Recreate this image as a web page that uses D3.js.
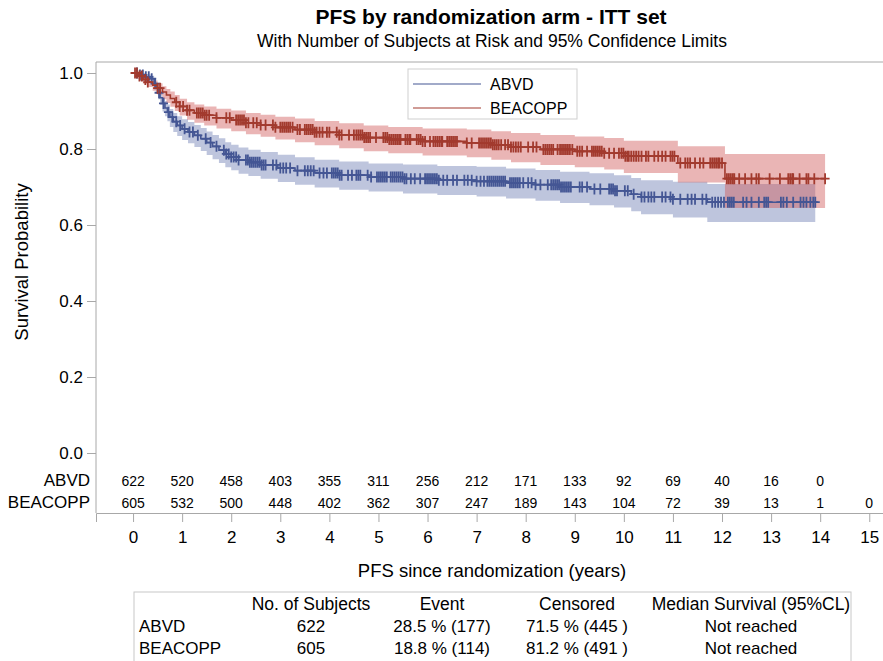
<!DOCTYPE html>
<html>
<head>
<meta charset="utf-8">
<script src="https://cdn.jsdelivr.net/npm/d3@7"></script>
<style>
    body { margin: 0; background: #fff; }
    text { font-family: "Liberation Sans", Arial, sans-serif; fill: #000; }
    .axis-scale path, .axis-scale line { stroke: #a8a8a8; }
    .axis-scale text { font-size: 17px; }
</style>
</head>
<body>
<div id="km-chart-container"></div>
<script>
// step times (years) and survival estimates with 95% limits - ABVD
const ABVD_TIME = [0, 0.12, 0.25, 0.38, 0.43, 0.47, 0.51, 0.55, 0.6, 0.65, 0.7, 0.75, 0.82, 0.9, 1.0, 1.12, 1.25, 1.38, 1.5, 1.62,
    1.75, 1.88, 2.0, 2.15, 2.35, 2.6, 2.95, 3.3, 3.7, 4.2, 4.8, 5.5, 6.2, 7.0, 7.6, 8.2, 8.7, 9.3, 9.8, 10.15, 10.35, 11.0, 11.7];
const ABVD_SURV = [1.0, 0.995, 0.99, 0.985, 0.972, 0.96, 0.948, 0.935, 0.92, 0.908, 0.897, 0.884, 0.872, 0.862, 0.853, 0.845, 0.836, 0.827, 0.817, 0.807,
    0.797, 0.787, 0.779, 0.771, 0.765, 0.758, 0.75, 0.743, 0.737, 0.731, 0.726, 0.722, 0.718, 0.715, 0.711, 0.706, 0.7, 0.695, 0.69, 0.681, 0.674, 0.668, 0.66];
const ABVD_LOWER = [1.0, 0.989, 0.982, 0.975, 0.96, 0.945, 0.931, 0.916, 0.899, 0.886, 0.873, 0.858, 0.845, 0.834, 0.824, 0.815, 0.805, 0.795, 0.784, 0.773,
    0.763, 0.752, 0.744, 0.735, 0.729, 0.722, 0.713, 0.706, 0.699, 0.693, 0.688, 0.683, 0.679, 0.675, 0.67, 0.664, 0.658, 0.652, 0.646, 0.636, 0.628, 0.62, 0.608];
const ABVD_UPPER = [1.0, 1.0, 0.996, 0.993, 0.982, 0.972, 0.962, 0.951, 0.937, 0.926, 0.917, 0.905, 0.895, 0.886, 0.878, 0.871, 0.863, 0.855, 0.846, 0.837,
    0.828, 0.818, 0.811, 0.804, 0.798, 0.792, 0.785, 0.778, 0.772, 0.767, 0.762, 0.759, 0.755, 0.753, 0.749, 0.745, 0.74, 0.736, 0.731, 0.724, 0.718, 0.714, 0.708];
const ABVD_LAST = 13.9;

// censored observations (years) - ABVD
const ABVD_CENSOR = [0.08, 0.14, 0.2, 0.26, 0.32, 0.38, 0.45, 0.53, 0.62, 0.72, 0.8, 0.88, 0.96, 1.05, 1.15, 1.22, 1.32, 1.48, 1.58, 1.7,
    1.85, 1.9, 1.95, 2.0, 2.05, 2.1, 2.15, 2.3, 2.34, 2.38, 2.42, 2.46, 2.5, 2.54, 2.58, 2.62, 2.66, 2.7, 2.85, 2.92, 3.0, 3.06, 3.12, 3.2,
    3.35, 3.5, 3.56, 3.62, 3.68, 3.8, 3.88, 3.95, 4.05, 4.09, 4.13, 4.17, 4.21, 4.25, 4.38, 4.46, 4.55, 4.59, 4.63, 4.78, 4.85, 4.97, 5.01,
    5.05, 5.09, 5.13, 5.17, 5.25, 5.29, 5.33, 5.37, 5.41, 5.45, 5.49, 5.53, 5.57, 5.66, 5.74, 5.85, 5.95, 5.99, 6.03, 6.07, 6.11, 6.15, 6.19,
    6.23, 6.32, 6.4, 6.52, 6.6, 6.75, 6.82, 6.9, 7.0, 7.08, 7.15, 7.22, 7.26, 7.3, 7.34, 7.38, 7.42, 7.46, 7.5, 7.54, 7.58, 7.68, 7.72, 7.76,
    7.8, 7.84, 7.88, 7.95, 8.05, 8.12, 8.2, 8.3, 8.45, 8.52, 8.56, 8.6, 8.64, 8.68, 8.72, 8.76, 8.8, 8.84, 8.88, 8.92, 9.1, 9.15, 9.25, 9.4,
    9.52, 9.7, 9.74, 9.78, 9.82, 9.86, 10.02, 10.08, 10.2, 10.36, 10.42, 10.5, 10.56, 10.62, 10.78, 10.85, 10.95, 11.0, 11.15, 11.3, 11.38,
    11.45, 11.6, 11.68, 11.8, 11.86, 11.92, 11.98, 12.04, 12.12, 12.16, 12.2, 12.24, 12.43, 12.5, 12.6, 12.75, 12.86, 12.9, 12.94, 13.2,
    13.25, 13.32, 13.45, 13.6, 13.66, 13.72, 13.8, 13.86, 13.9];

// step times (years) and survival estimates with 95% limits - BEACOPP
const BEA_TIME = [0, 0.1, 0.2, 0.3, 0.4, 0.5, 0.6, 0.68, 0.76, 0.85, 0.95, 1.1, 1.25, 1.45, 1.7, 2.0, 2.3, 2.6, 2.9, 3.3,
    3.7, 4.2, 4.7, 5.2, 5.9, 6.8, 7.3, 7.7, 8.3, 9.0, 9.6, 10.0, 11.1, 12.06];
const BEA_SURV = [1.0, 0.992, 0.983, 0.976, 0.968, 0.96, 0.95, 0.942, 0.933, 0.923, 0.912, 0.902, 0.895, 0.889, 0.882, 0.876, 0.869, 0.863, 0.857, 0.851,
    0.844, 0.837, 0.83, 0.825, 0.82, 0.816, 0.811, 0.805, 0.799, 0.794, 0.789, 0.781, 0.763, 0.722];
const BEA_LOWER = [1.0, 0.985, 0.972, 0.963, 0.953, 0.943, 0.931, 0.921, 0.911, 0.9, 0.888, 0.877, 0.869, 0.862, 0.854, 0.847, 0.839, 0.832, 0.825, 0.818,
    0.81, 0.802, 0.794, 0.789, 0.783, 0.778, 0.772, 0.765, 0.758, 0.752, 0.746, 0.737, 0.712, 0.645];
const BEA_UPPER = [1.0, 0.997, 0.991, 0.986, 0.98, 0.973, 0.965, 0.958, 0.951, 0.942, 0.932, 0.923, 0.917, 0.912, 0.906, 0.901, 0.895, 0.89, 0.885, 0.88,
    0.874, 0.868, 0.862, 0.858, 0.854, 0.851, 0.847, 0.842, 0.837, 0.833, 0.829, 0.822, 0.807, 0.787];
const BEA_LAST = 14.1;

// censored observations (years) - BEACOPP
const BEA_CENSOR = [0.04, 0.08, 0.13, 0.18, 0.25, 0.3, 0.5, 0.55, 0.88, 0.95, 1.02, 1.1, 1.15, 1.3, 1.34, 1.38, 1.42, 1.46, 1.5, 1.55,
    1.7, 1.9, 1.97, 2.1, 2.14, 2.18, 2.22, 2.26, 2.3, 2.35, 2.45, 2.52, 2.6, 2.7, 2.85, 2.9, 3.0, 3.04, 3.08, 3.12, 3.16, 3.2, 3.25, 3.35,
    3.4, 3.5, 3.54, 3.58, 3.62, 3.66, 3.7, 3.74, 3.8, 3.86, 3.95, 4.0, 4.15, 4.2, 4.25, 4.4, 4.5, 4.55, 4.59, 4.63, 4.67, 4.71, 4.75, 4.79,
    4.83, 4.95, 5.1, 5.14, 5.18, 5.22, 5.26, 5.3, 5.34, 5.38, 5.42, 5.45, 5.55, 5.59, 5.63, 5.65, 5.78, 5.82, 5.86, 5.9, 5.95, 6.05, 6.12,
    6.16, 6.2, 6.24, 6.28, 6.3, 6.4, 6.44, 6.48, 6.52, 6.56, 6.6, 6.8, 6.9, 7.05, 7.09, 7.13, 7.17, 7.21, 7.25, 7.29, 7.33, 7.37, 7.41,
    7.45, 7.5, 7.58, 7.64, 7.7, 7.75, 7.8, 7.85, 7.9, 8.05, 8.15, 8.22, 8.36, 8.4, 8.44, 8.48, 8.52, 8.56, 8.65, 8.7, 8.74, 8.78, 8.82,
    8.86, 8.9, 8.95, 9.05, 9.1, 9.15, 9.25, 9.35, 9.39, 9.43, 9.47, 9.51, 9.55, 9.6, 9.7, 9.8, 9.9, 9.95, 9.99, 10.03, 10.07, 10.1, 10.15,
    10.2, 10.25, 10.3, 10.36, 10.45, 10.5, 10.62, 10.7, 10.78, 10.85, 10.95, 10.99, 11.03, 11.15, 11.25, 11.3, 11.35, 11.45, 11.55, 11.62,
    11.76, 11.8, 11.84, 11.88, 11.92, 11.95, 12.0, 12.1, 12.14, 12.18, 12.22, 12.25, 12.35, 12.47, 12.6, 12.7, 12.75, 12.97, 13.18, 13.35,
    13.39, 13.43, 13.45, 13.58, 13.72, 13.76, 13.88, 14.1];

// number of subjects at risk
const RISK_TIMES = [0, 1, 2, 3, 4, 5, 6, 7, 8, 9, 10, 11, 12, 13, 14, 15];
const RISK_ABVD = [622, 520, 458, 403, 355, 311, 256, 212, 171, 133, 92, 69, 40, 16, 0];
const RISK_BEA = [605, 532, 500, 448, 402, 362, 307, 247, 189, 143, 104, 72, 39, 13, 1, 0];

// axis ticks
const X_TICKS = [0, 1, 2, 3, 4, 5, 6, 7, 8, 9, 10, 11, 12, 13, 14, 15];
const Y_TICKS = [0, 0.2, 0.4, 0.6, 0.8, 1.0];

// summary table
const ARM_NAMES = ["ABVD", "BEACOPP"];
const SUMMARY_HEADERS = ["No. of Subjects", "Event", "Censored", "Median Survival (95%CL)"];
const SUMMARY_ABVD = ["622", "28.5 % (177)", "71.5 % (445 )", "Not reached"];
const SUMMARY_BEA = ["605", "18.8 % (114)", "81.2 % (491 )", "Not reached"];

function drawKmChart() {
    const W = 883, H = 661;

    const svg = d3.select("#km-chart-container")
        .append("svg")
        .attr("width", W)
        .attr("height", H);

    // scales
    const x = d3.scaleLinear().domain([-0.755, 15.28]).range([96, 883]);
    const y = d3.scaleLinear().domain([0, 1]).range([453, 73]);

    // titles
    svg.append("text")
        .attr("x", 491).attr("y", 24)
        .attr("text-anchor", "middle")
        .attr("font-size", "21px").attr("font-weight", "bold")
        .text("PFS by randomization arm - ITT set");
    svg.append("text")
        .attr("x", 492).attr("y", 47)
        .attr("text-anchor", "middle")
        .attr("font-size", "17.5px")
        .text("With Number of Subjects at Risk and 95% Confidence Limits");

    // frame: top border and left axis line
    svg.append("line")
        .attr("x1", 96).attr("x2", W).attr("y1", 62).attr("y2", 62)
        .attr("stroke", "#a8a8a8");
    svg.append("line")
        .attr("x1", 96).attr("x2", 96).attr("y1", 62).attr("y2", 513)
        .attr("stroke", "#a8a8a8");

    // y axis
    const yAxis = svg.append("g")
        .attr("class", "axis-scale")
        .attr("transform", "translate(96,0)")
        .call(d3.axisLeft(y).tickValues(Y_TICKS).tickFormat(d3.format(".1f")).tickSize(9).tickPadding(4));
    yAxis.select(".domain").remove();

    svg.append("text")
        .attr("transform", "translate(28,262) rotate(-90)")
        .attr("text-anchor", "middle")
        .attr("font-size", "18.5px")
        .text("Survival Probability");

    // x axis below the at-risk rows
    svg.append("g")
        .attr("class", "axis-scale")
        .attr("transform", "translate(0,513)")
        .call(d3.axisBottom(x).tickValues(X_TICKS).tickSizeOuter(0).tickSize(9).tickPadding(9));

    svg.append("text")
        .attr("x", 492).attr("y", 577)
        .attr("text-anchor", "middle")
        .attr("font-size", "18.5px")
        .text("PFS since randomization (years)");

    const arms = [
        { name: ARM_NAMES[0], time: ABVD_TIME, surv: ABVD_SURV, lower: ABVD_LOWER, upper: ABVD_UPPER, last: ABVD_LAST,
          censor: ABVD_CENSOR, line: "#445694", fill: "#6f7eb3" },
        { name: ARM_NAMES[1], time: BEA_TIME, surv: BEA_SURV, lower: BEA_LOWER, upper: BEA_UPPER, last: BEA_LAST,
          censor: BEA_CENSOR, line: "#a23a2e", fill: "#d05b5b" },
    ];

    // build step points from arrays, closing at last follow-up
    arms.forEach(a => {
        a.points = a.time.map((t, i) => ({ t: t, s: a.surv[i], lo: a.lower[i], hi: a.upper[i] }));
        const endPt = a.points[a.points.length - 1];
        a.points.push({ t: a.last, s: endPt.s, lo: endPt.lo, hi: endPt.hi });
    });

    // confidence bands
    const band = d3.area()
        .curve(d3.curveStepAfter)
        .x(d => x(d.t))
        .y0(d => y(d.lo))
        .y1(d => y(d.hi));
    arms.forEach(a => {
        svg.append("path")
            .attr("d", band(a.points))
            .attr("fill", a.fill)
            .attr("fill-opacity", 0.45);
    });

    // survival curves
    const step = d3.line()
        .curve(d3.curveStepAfter)
        .x(d => x(d.t))
        .y(d => y(d.s));
    const bisect = d3.bisector(d => d).right;
    arms.forEach(a => {
        svg.append("path")
            .attr("d", step(a.points))
            .attr("fill", "none")
            .attr("stroke", a.line)
            .attr("stroke-width", 1.6);

        // censor marks (+)
        const marks = svg.append("g").attr("stroke", a.line).attr("stroke-width", 1.8);
        a.censor.forEach(c => {
            const sv = a.surv[bisect(a.time, c) - 1];
            const cx = x(c), cy = y(sv);
            marks.append("path").attr("d", `M${cx - 4.5},${cy}H${cx + 4.5}M${cx},${cy - 5.5}V${cy + 5.5}`);
        });
    });

    // legend
    const legend = svg.append("g");
    legend.append("rect")
        .attr("x", 408).attr("y", 69).attr("width", 169).attr("height", 50)
        .attr("fill", "#fff").attr("stroke", "#cfcfcf");
    arms.forEach((a, i) => {
        const ly = 84 + i * 24;
        legend.append("line")
            .attr("x1", 413).attr("x2", 481).attr("y1", ly).attr("y2", ly)
            .attr("stroke", a.line).attr("stroke-width", 1.2);
        legend.append("text")
            .attr("x", 490).attr("y", ly + 6)
            .attr("font-size", "16px")
            .text(a.name);
    });

    // number at risk rows
    const riskRows = [RISK_ABVD, RISK_BEA];
    riskRows.forEach((row, i) => {
        const ry = 486 + i * 22;
        svg.append("text")
            .attr("x", 90).attr("y", ry)
            .attr("text-anchor", "end")
            .attr("font-size", "17px")
            .text(ARM_NAMES[i]);
        svg.append("g")
            .selectAll("text")
            .data(row)
            .join("text")
            .attr("x", (d, j) => x(RISK_TIMES[j]))
            .attr("y", ry)
            .attr("text-anchor", "middle")
            .attr("font-size", "14px")
            .text(d => d);
    });

    // summary table
    const colX = [311, 442, 577, 751];
    svg.append("rect")
        .attr("x", 134).attr("y", 592).attr("width", 717).attr("height", 80)
        .attr("fill", "none").attr("stroke", "#c8c8c8");
    svg.append("g")
        .selectAll("text")
        .data(SUMMARY_HEADERS)
        .join("text")
        .attr("x", (d, i) => colX[i]).attr("y", 610)
        .attr("text-anchor", "middle")
        .attr("font-size", "17.5px")
        .text(d => d);
    [SUMMARY_ABVD, SUMMARY_BEA].forEach((row, r) => {
        const ry = 632 + r * 22;
        svg.append("text")
            .attr("x", 139).attr("y", ry)
            .attr("font-size", "17px")
            .text(ARM_NAMES[r]);
        svg.append("g")
            .selectAll("text")
            .data(row)
            .join("text")
            .attr("x", (d, i) => colX[i]).attr("y", ry)
            .attr("text-anchor", "middle")
            .attr("font-size", "17px")
            .text(d => d);
    });
}

window.onload = () => {
    drawKmChart();
};
</script>
</body>
</html>
